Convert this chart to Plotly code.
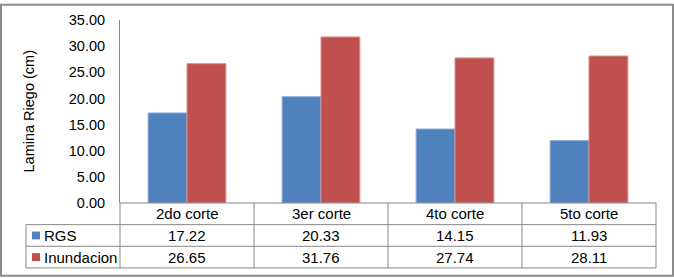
import plotly.graph_objects as go

categories = ["2do corte", "3er corte", "4to corte", "5to corte"]
series_names = ["RGS", "Inundacion"]
rgs = [17.22, 20.33, 14.15, 11.93]
inundacion = [26.65, 31.76, 27.74, 28.11]
y_ticks = [0, 5, 10, 15, 20, 25, 30, 35]
y_title = "Lamina Riego (cm)"

colors = ["#4F81BD", "#C0504D"]
outlines = ["#8FAAD6", "#D98F8D"]
W, H = 674, 278
L, R, T, B = 120, 18, 17, 75
pw, ph = W - L - R, H - T - B
grid = "#878787"
fam = "Liberation Sans, Arial, sans-serif"
font = dict(family=fam, size=14.5, color="#000000")
tfont = dict(family=fam, size=15, color="#000000")

def px_x(p):
    return (p - L) / pw

def px_y(p):
    return (H - B - p) / ph

fig = go.Figure()
for name, vals, c, oc in zip(series_names, [rgs, inundacion], colors, outlines):
    fig.add_trace(go.Bar(x=categories, y=vals, name=name, marker=dict(color=c, line=dict(color=oc, width=1)), hoverinfo="skip"))

shapes = []
annotations = []
row_px = [203, 225, 247, 269]
shapes.append(dict(type="line", xref="paper", yref="paper", x0=0, x1=1, y0=px_y(203), y1=px_y(203), line=dict(color=grid, width=1)))
for rp in row_px[1:]:
    shapes.append(dict(type="line", xref="paper", yref="paper", x0=px_x(26), x1=1, y0=px_y(rp), y1=px_y(rp), line=dict(color=grid, width=1)))
n = len(categories)
for i in range(n + 1):
    shapes.append(dict(type="line", xref="paper", yref="paper", x0=i / n, x1=i / n, y0=px_y(203), y1=px_y(269), line=dict(color=grid, width=1)))
shapes.append(dict(type="line", xref="paper", yref="paper", x0=px_x(26), x1=px_x(26), y0=px_y(225), y1=px_y(269), line=dict(color=grid, width=1)))
shapes.append(dict(type="rect", xref="paper", yref="paper", x0=px_x(1), x1=px_x(673), y0=px_y(1.5), y1=px_y(277), line=dict(color="#8C8C8C", width=2)))

for i, cat in enumerate(categories):
    annotations.append(dict(xref="paper", yref="paper", x=(i + 0.5) / n, y=px_y(214), text=cat, showarrow=False, font=tfont, xanchor="center", yanchor="middle"))
for r, (name, vals, c) in enumerate(zip(series_names, [rgs, inundacion], colors)):
    yc = px_y(236 + 22 * r)
    shapes.append(dict(type="rect", xref="paper", yref="paper", x0=px_x(32), x1=px_x(40), y0=yc - 4 / ph, y1=yc + 4 / ph, fillcolor=c, line=dict(width=0)))
    annotations.append(dict(xref="paper", yref="paper", x=px_x(42), y=yc, text=name, showarrow=False, font=tfont, xanchor="left", yanchor="middle"))
    for i, v in enumerate(vals):
        annotations.append(dict(xref="paper", yref="paper", x=(i + 0.5) / n, y=yc, text=f"{v:.2f}", showarrow=False, font=tfont, xanchor="center", yanchor="middle"))
annotations.append(dict(xref="paper", yref="paper", x=px_x(28), y=0.5, text=y_title, textangle=-90, showarrow=False, font=font, xanchor="center", yanchor="middle"))

fig.update_layout(
    width=W, height=H,
    margin=dict(l=L, r=R, t=T, b=B),
    paper_bgcolor="white", plot_bgcolor="white",
    barmode="group", bargap=0.42, bargroupgap=0,
    showlegend=False,
    font=font,
    shapes=shapes, annotations=annotations,
    xaxis=dict(showticklabels=False, showline=False, showgrid=False, zeroline=False, ticks=""),
    yaxis=dict(range=[0, 35], tickvals=y_ticks, tickformat=".2f", showgrid=False, zeroline=False,
               showline=True, linecolor=grid, linewidth=1, ticks="outside", ticklen=11, tickcolor="rgba(0,0,0,0)",
               tickfont=font),
)
fig.write_html("out.html", config={"displayModeBar": False},
               post_script="document.body.style.margin='0';document.body.style.overflow='hidden';")
